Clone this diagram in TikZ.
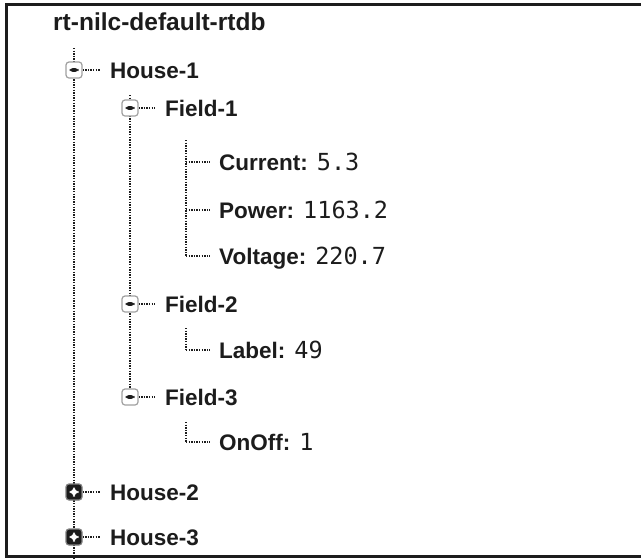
\documentclass[tikz,border=0pt]{standalone}
\usepackage{fontspec}
\setmainfont{Liberation Sans}
\setmonofont{DejaVu Sans Mono}
\usetikzlibrary{backgrounds}
\definecolor{ink}{HTML}{1C1C1C}
\definecolor{boxedge}{HTML}{A0A0A0}
\newcommand{\kv}[2]{#1\hspace{9pt}{\mdseries\ttfamily\fontsize{23.5}{27}\selectfont #2}}
\tikzset{
  treeline/.style={draw=ink, line width=1.9pt, dash pattern=on 1.4pt off 1.2pt},
  keytext/.style={anchor=base west, inner sep=0pt, text=ink,
    font=\fontsize{22.5}{26}\selectfont\bfseries},
  togglebox/.style={rounded corners=3pt, minimum size=16pt, inner sep=0pt, line width=1.2pt},
  minusbox/.style={togglebox, draw=boxedge, fill=white,
    path picture={\fill[ink] ([xshift=-4.5pt,yshift=-1.8pt]path picture bounding box.center)
      rectangle ++(9pt,3.6pt);}},
  plusbox/.style={togglebox, draw=gray, fill=ink,
    path picture={
      \fill[white] ([xshift=-4.5pt,yshift=-1.8pt]path picture bounding box.center)
        rectangle ++(9pt,3.6pt);
      \fill[white] ([xshift=-1.8pt,yshift=-4.5pt]path picture bounding box.center)
        rectangle ++(3.6pt,9pt);}},
  frame/.style={draw=ink, line width=3pt}
}
\begin{document}
\begin{tikzpicture}[x=1pt,y=-1pt]
\useasboundingbox (0,0) rectangle (641,558);

% outer frame (open on the right)
\draw[frame] (641,4) -- (6.5,4) -- (6.5,556.5) -- (641,556.5);

% database root
\node[keytext, font=\fontsize{24.5}{28}\selectfont\bfseries] (root) at (53,30) {rt-nilc-default-rtdb};

% level 1: houses
\node[minusbox] (bh1) at (74,70) {};
\node[keytext] (h1) at (110,78) {House-1};
\node[plusbox] (bh2) at (74,492) {};
\node[keytext] (h2) at (110,500) {House-2};
\node[plusbox] (bh3) at (74,537) {};
\node[keytext] (h3) at (110,545) {House-3};

% level 2: fields of House-1
\node[minusbox] (bf1) at (130,108) {};
\node[keytext] (f1) at (165,116) {Field-1};
\node[minusbox] (bf2) at (130,304) {};
\node[keytext] (f2) at (165,312) {Field-2};
\node[minusbox] (bf3) at (130,397) {};
\node[keytext] (f3) at (165,405) {Field-3};

% leaves
\coordinate (lcur) at (186,162);
\node[keytext] (cur) at (219,170) {\kv{Current:}{5.3}};
\coordinate (lpow) at (186,210);
\node[keytext] (pow) at (219,218) {\kv{Power:}{1163.2}};
\coordinate (lvol) at (186,256);
\node[keytext] (vol) at (219,264) {\kv{Voltage:}{220.7}};
\coordinate (llab) at (186,350);
\node[keytext] (lab) at (219,358) {\kv{Label:}{49}};
\coordinate (lonf) at (186,442);
\node[keytext] (onf) at (219,450) {\kv{OnOff:}{1}};

% guide line ends
\coordinate (rtop) at (74,48);
\coordinate (rbot) at (74,558);
\coordinate (ftop) at (130,95);
\coordinate (ctop) at (186,140);
\coordinate (ltop) at (186,328);
\coordinate (otop) at (186,422);

\begin{scope}[on background layer]
  % vertical guides
  \draw[treeline] (rtop) -- (rbot);
  \draw[treeline] (ftop) -- (bf3.center);
  \draw[treeline] (ctop) -- (lvol);
  \draw[treeline] (ltop) -- (llab);
  \draw[treeline] (otop) -- (lonf);
  % branches to keys
  \foreach \b/\t in {bh1/h1, bh2/h2, bh3/h3, bf1/f1, bf2/f2, bf3/f3}
    \draw[treeline, shorten >=10pt] (\b.east) -- (\t.west |- \b.east);
  \foreach \l/\t in {lcur/cur, lpow/pow, lvol/vol, llab/lab, lonf/onf}
    \draw[treeline, shorten >=9pt] (\l) -- (\t.west |- \l);
\end{scope}
\end{tikzpicture}
\end{document}
